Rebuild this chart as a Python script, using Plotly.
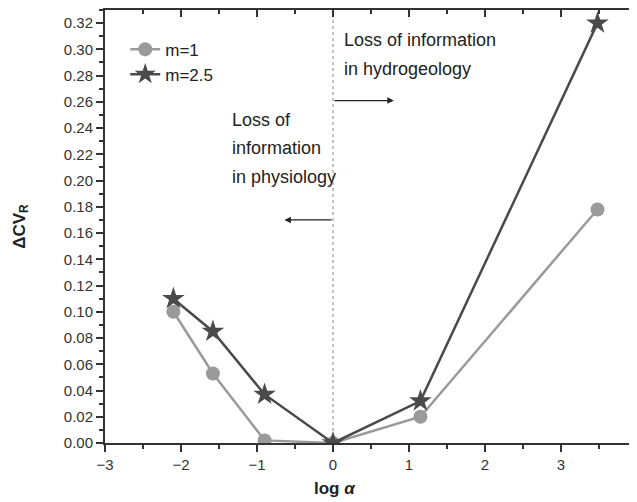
import plotly.graph_objects as go

log_alpha = [-2.1, -1.58, -0.9, 0.0, 1.15, 3.48]
m1_values = [0.100, 0.053, 0.002, 0.000, 0.020, 0.178]
m25_values = [0.110, 0.085, 0.037, 0.000, 0.032, 0.320]
x_range = [-3, 4]
y_range = [0, 0.33]
x_ticks = [-3, -2, -1, 0, 1, 2, 3, 4]
y_ticks = [round(0.02 * i, 2) for i in range(17)]
y_tick_labels = [f"{v:.2f}" for v in y_ticks]

c1 = "#9a9a9a"
c2 = "#4a4a4a"
font = "Liberation Sans, Arial, sans-serif"
txt = "#222"

fig = go.Figure()
fig.add_trace(go.Scatter(x=log_alpha, y=m1_values, mode="lines+markers", name="m=1",
                         line=dict(color=c1, width=2.5),
                         marker=dict(symbol="circle", size=14, color=c1)))
fig.add_trace(go.Scatter(x=log_alpha, y=m25_values, mode="lines+markers", name="m=2.5",
                         line=dict(color=c2, width=2.5),
                         marker=dict(symbol="star", size=17, color=c2)))
# invisible trace for mirrored axes
fig.add_trace(go.Scatter(x=[x_range[0]], y=[y_range[0]], xaxis="x2", yaxis="y2",
                         mode="markers", marker=dict(opacity=0), showlegend=False, hoverinfo="skip"))

# vertical dotted line at x=0
fig.add_shape(type="line", x0=0, x1=0, y0=0, y1=1, xref="x", yref="paper",
              line=dict(color="#888", width=1, dash="dot"), layer="below")

# arrows
fig.add_annotation(x=0.8, y=0.261, ax=0, ay=0.261, xref="x", yref="y", axref="x", ayref="y",
                   showarrow=True, arrowhead=2, arrowsize=1, arrowwidth=1.3, arrowcolor="#222", text="")
fig.add_annotation(x=-0.64, y=0.170, ax=0, ay=0.170, xref="x", yref="y", axref="x", ayref="y",
                   showarrow=True, arrowhead=2, arrowsize=1, arrowwidth=1.3, arrowcolor="#222", text="")

hyd_lines = ["Loss of information", "in hydrogeology"]
hyd_y = [0.307, 0.285]
phys_lines = ["Loss of", "information", "in physiology"]
phys_y = [0.246, 0.225, 0.203]
for t, yy in zip(hyd_lines, hyd_y):
    fig.add_annotation(x=0.12, y=yy, xref="x", yref="y", xanchor="left", yanchor="middle",
                       text=t, showarrow=False, font=dict(family=font, size=18, color=txt))
for t, yy in zip(phys_lines, phys_y):
    fig.add_annotation(x=-1.36, y=yy, xref="x", yref="y", xanchor="left", yanchor="middle",
                       text=t, showarrow=False, font=dict(family=font, size=18, color=txt))

# x axis title
fig.add_annotation(x=0.02, y=-0.078, xref="x", yref="paper", yanchor="top", text="<b>log <i>α</i></b>",
                   showarrow=False, font=dict(family=font, size=17, color=txt))

tick_font = dict(family=font, size=15, color="#333")
axcol = "#333"

fig.update_layout(
    width=629, height=494,
    margin=dict(l=97, r=0, t=2, b=59),
    paper_bgcolor="white", plot_bgcolor="white",
    font=dict(family=font, size=15, color="#333"),
    showlegend=True,
    legend=dict(x=0.038, y=0.95, xanchor="left", yanchor="top", bgcolor="rgba(0,0,0,0)",
                font=dict(family=font, size=17, color=txt), tracegroupgap=0),
    xaxis=dict(range=x_range, tickvals=x_ticks, ticks="outside", ticklen=7, tickwidth=1.5,
               tickcolor=axcol, showline=True, linecolor=axcol, linewidth=2, showgrid=False,
               zeroline=False, minor=dict(dtick=0.5, tick0=0, ticks="outside", ticklen=4, tickcolor=axcol),
               tickfont=tick_font),
    yaxis=dict(range=y_range, tickvals=y_ticks, ticktext=y_tick_labels, ticks="outside", ticklen=7,
               tickwidth=1.5, tickcolor=axcol, showline=True, linecolor=axcol, linewidth=2,
               showgrid=False, zeroline=False,
               minor=dict(dtick=0.01, tick0=0, ticks="outside", ticklen=4, tickcolor=axcol),
               title=dict(text="<b>ΔCV<sub>R</sub></b>", font=dict(family=font, size=17, color=txt),
                          standoff=34),
               tickfont=tick_font),
    xaxis2=dict(range=x_range, overlaying="x", side="top", tickvals=x_ticks, ticks="inside",
                ticklen=7, tickwidth=1.5, tickcolor=axcol, showticklabels=False, showline=True,
                linecolor=axcol, linewidth=2, showgrid=False, zeroline=False,
                minor=dict(dtick=0.5, tick0=0, ticks="inside", ticklen=4, tickcolor=axcol)),
    yaxis2=dict(range=y_range, overlaying="y", side="right", tickvals=y_ticks, ticks="inside",
                ticklen=7, tickwidth=1.5, tickcolor=axcol, showticklabels=False, showline=True,
                linecolor=axcol, linewidth=2, showgrid=False, zeroline=False,
                minor=dict(dtick=0.01, tick0=0, ticks="inside", ticklen=4, tickcolor=axcol)),
)

fig.write_html("out.html")
